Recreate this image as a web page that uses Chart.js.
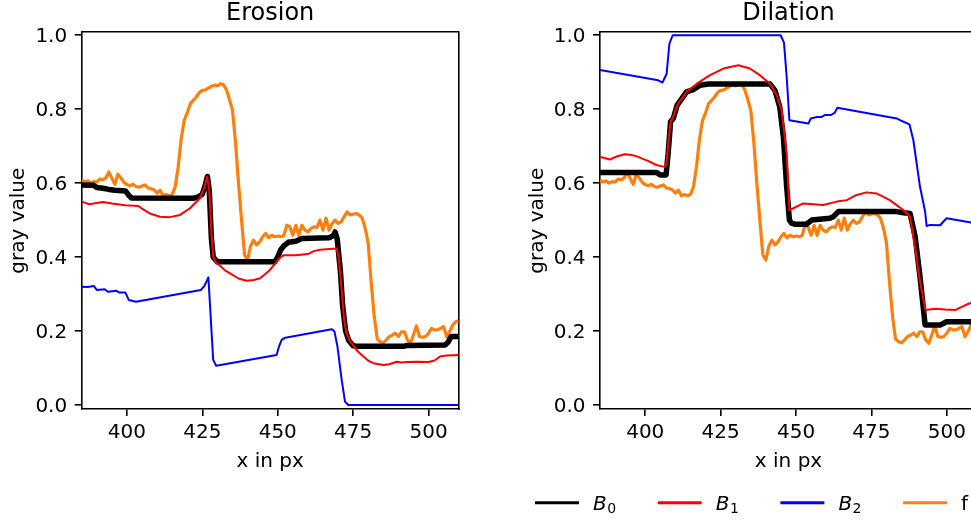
<!DOCTYPE html>
<html>
<head>
<meta charset="utf-8">
<script src="https://cdn.jsdelivr.net/npm/chart.js@4.4.0/dist/chart.umd.min.js"></script>
<style>
  html, body { margin: 0; padding: 0; background: #fff; overflow: hidden; }
  #wrap { position: relative; width: 971px; height: 519px; overflow: hidden; }
  #erosion { position: absolute; left: 0; top: 0; }
  #dilation { position: absolute; left: 490px; top: 0; }
</style>
</head>
<body>
<div id="wrap">
  <canvas id="erosion" width="490" height="519"></canvas>
  <canvas id="dilation" width="520" height="519"></canvas>
</div>
<script>
// ---- axes ----
const xTicks = [400, 425, 450, 475, 500];
const yTicks = [0.0, 0.2, 0.4, 0.6, 0.8, 1.0];
const xRange = [385, 510];
const yRange = [-0.011, 1.008];

// ---- input signal f (one sample per px) ----
const fX = [385,386,387,388,389,390,391,392,393,394,395,396,397,398,399,400,401,402,403,404,
  405,406,407,408,409,410,411,412,413,414,415,416,417,418,419,420,421,422,423,424,
  425,426,427,428,429,430,431,432,433,434,435,436,437,438,439,440,441,442,443,444,
  445,446,447,448,449,450,451,452,453,454,455,456,457,458,459,460,461,462,463,464,
  465,466,467,468,469,470,471,472,473,474,475,476,477,478,479,480,481,482,483,484,
  485,486,487,488,489,490,491,492,493,494,495,496,497,498,499,500,501,502,503,504,
  505,506,507,508,509,510];
const fY = [.608,.603,.606,.600,.604,.603,.611,.609,.614,.630,.613,.597,.624,.614,.602,.596,.593,.597,.591,.589,
  .592,.595,.587,.585,.582,.573,.581,.566,.569,.566,.569,.590,.645,.720,.770,.790,.815,.824,.833,.845,
  .851,.852,.857,.862,.865,.863,.869,.866,.853,.826,.797,.710,.600,.500,.405,.392,.430,.446,.433,.441,
  .455,.464,.452,.459,.455,.457,.455,.458,.486,.482,.459,.486,.459,.486,.473,.468,.477,.482,.480,.500,
  .473,.505,.473,.490,.500,.491,.495,.509,.522,.514,.516,.518,.514,.505,.478,.437,.330,.239,.178,.171,
  .168,.176,.185,.189,.194,.185,.198,.198,.176,.167,.189,.214,.185,.183,.185,.194,.207,.203,.203,.207,
  .212,.185,.198,.216,.225,.228];

// ---- erosion results ----
const b0ErosionX = [385,389,390,392,394,396,399.5,400.5,401.5,422,423.5,425,426,426.7,427.3,428,428.6,430,449,450,
  451,452,453.5,456,458,467,468.5,469,469.7,470.8,471.5,472.5,473.5,475,476,492,493,505.5,506.5,507.5,510];
const b0ErosionY = [.595,.594,.588,.586,.583,.581,.579,.568,.560,.559,.562,.570,.595,.618,.580,.450,.400,.387,.387,.400,
  .420,.430,.440,.443,.450,.452,.458,.468,.450,.360,.270,.200,.175,.160,.159,.159,.161,.162,.170,.185,.185];

const b1ErosionX = [385,387.5,390,392,395,399.4,403.8,405,407.6,410.9,414.2,417.6,420.9,424.2,425.5,426.6,427.3,428,428.6,429.5,
  431,432.5,434.2,437,439.7,442,444,446,447.4,449.6,451,452,456,460,462,464,469.5,470.2,471,472,
  472.8,474,475,476.5,478.4,480,481.7,485,487,489.5,491,493,496,500,502,503.8,506,510];
const b1ErosionY = [.550,.543,.546,.549,.545,.540,.538,.531,.518,.509,.508,.514,.532,.559,.585,.617,.580,.464,.401,.385,
  .376,.364,.356,.342,.336,.338,.342,.355,.365,.387,.400,.405,.405,.408,.416,.420,.423,.400,.330,.230,
  .194,.172,.162,.145,.131,.120,.113,.108,.110,.117,.115,.116,.117,.116,.120,.131,.134,.135];

const b2ErosionX = [385,387,389,390,392.6,393.7,396.4,397.5,399.5,400.6,403,424.5,425.7,427,428.6,429.6,449.6,450.5,451.3,452.5,
  467.9,468.8,469.8,471.2,472.3,473.4,510];
const b2ErosionY = [.320,.319,.322,.311,.313,.306,.309,.304,.304,.284,.279,.311,.322,.345,.122,.106,.135,.160,.176,.182,
  .205,.199,.158,.068,.009,0,0];

// ---- dilation results ----
const b0DilationX = [385,403.7,405,406.9,407.6,408.4,409.3,410.6,413.7,415.9,418.2,420.9,441.4,443,444.6,445.8,446.9,447.8,448.5,449.6,
  453.5,455.2,461.2,462.5,464,483.4,485.6,487.8,489.5,491.1,492.8,497.8,499.9,510];
const b0DilationY = [.629,.629,.622,.622,.680,.766,.775,.811,.847,.853,.865,.868,.868,.851,.806,.725,.590,.500,.492,.489,
  .489,.500,.505,.510,.523,.523,.520,.518,.455,.347,.216,.216,.225,.225];

const b1DilationX = [385,386.5,388.3,390.5,393.2,395,397,400.9,403.7,406.4,407,407.8,408.4,409.3,410.6,413.7,417.1,421.5,425.9,430.9,
  434.7,438,441.4,443.6,445.2,446.9,447.8,449.1,452.4,459,463.5,466.8,470.1,473.4,476.7,481.1,485.6,487.8,489.6,491.2,
  492.9,496.2,499.5,502.9,505.1,507.6,510];
const b1DilationY = [.671,.668,.664,.672,.678,.677,.673,.660,.649,.644,.650,.720,.766,.780,.811,.847,.869,.892,.910,.919,
  .910,.892,.869,.838,.797,.680,.527,.532,.545,.541,.550,.554,.568,.575,.572,.554,.527,.509,.419,.329,
  .257,.260,.258,.257,.266,.275,.278];

const b2DilationX = [385,404.3,405.7,407.1,408,409.1,444.9,446,446.9,447.8,454.1,454.9,456.9,458.5,459.5,461.5,462.8,463.7,483.4,485.1,
  487.6,488.9,491.1,492.8,493.3,494.5,497.8,499.9,510];
const b2DilationY = [.906,.878,.872,.896,.977,1.0,1.0,.980,.887,.770,.761,.775,.779,.779,.784,.784,.790,.804,.775,.768,
  .759,.716,.590,.523,.484,.487,.486,.505,.491];

// ---- series labels / colours ----
const seriesLabels = ['B₀', 'B₁', 'B₂', 'f'];
const seriesColors = ['#000000', '#ff0000', '#0000ff', '#ff7f0e'];

const FONT = '"DejaVu Sans", sans-serif';
const toPoints = (xs, ys) => xs.map((x, i) => ({ x: x, y: ys[i] }));

function makeDatasets(b0, b1, b2) {
  const widths = [5.5, 2, 2, 3.2];
  const order = [1, 0, 2, 3];          // red above black, orange underneath
  const pts = [b0, b1, b2, toPoints(fX, fY)];
  return pts.map((d, i) => ({
    label: seriesLabels[i],
    data: d,
    borderColor: seriesColors[i],
    backgroundColor: seriesColors[i],
    borderWidth: widths[i],
    order: order[i],
    pointRadius: 0,
    tension: 0,
    fill: false,
    borderJoinStyle: 'round',
    borderCapStyle: 'butt',
    clip: 0
  }));
}

// legend row under the right panel: short line + label (B with subscript digit)
const subDigits = { '₀': '0', '₁': '1', '₂': '2' };
const bottomLegend = {
  id: 'bottomLegend',
  afterDraw(chart) {
    const ctx = chart.ctx;
    const x0 = 45, step = 122.7, lineLen = 44, gap = 14, lineY = 502.7, baseY = 510;
    chart.data.datasets.forEach((ds, i) => {
      const x = x0 + i * step;
      ctx.save();
      ctx.strokeStyle = ds.borderColor;
      ctx.lineWidth = 3;
      ctx.lineCap = 'butt';
      ctx.beginPath();
      ctx.moveTo(x, lineY);
      ctx.lineTo(x + lineLen, lineY);
      ctx.stroke();
      ctx.fillStyle = '#000';
      ctx.textAlign = 'left';
      ctx.textBaseline = 'alphabetic';
      let tx = x + lineLen + gap;
      const chars = Array.from(ds.label);
      const last = chars[chars.length - 1];
      if (subDigits[last] !== undefined) {
        const base = chars.slice(0, -1).join('');
        ctx.font = 'italic 20px ' + FONT;
        ctx.fillText(base, tx, baseY);
        tx += ctx.measureText(base).width + 0.5;
        ctx.font = '14px ' + FONT;
        ctx.fillText(subDigits[last], tx, baseY + 3);
      } else {
        ctx.font = '20px ' + FONT;
        ctx.fillText(ds.label, tx, baseY);
      }
      ctx.restore();
    });
  }
};

function panel(id, title, datasets, padLeft, padRight, withLegend) {
  const tickFont = { family: FONT, size: 20 };
  const gridOpts = { display: true, drawOnChartArea: false, drawTicks: true, tickLength: 7,
                     tickWidth: 1.6, tickColor: '#000', color: '#000', lineWidth: 1.6 };
  const borderOpts = { display: true, color: '#000', width: 1.6 };
  return new Chart(document.getElementById(id), {
    type: 'line',
    data: { datasets: datasets },
    options: {
      responsive: false,
      animation: false,
      events: [],
      layout: { padding: { left: padLeft, right: padRight, top: 0, bottom: 40 } },
      plugins: { legend: { display: false }, tooltip: { enabled: false }, title: { display: false } },
      scales: {
        x: {
          type: 'linear', axis: 'x', position: 'bottom', z: 1,
          min: xRange[0], max: xRange[1],
          afterBuildTicks: s => { s.ticks = xTicks.map(v => ({ value: v })); },
          afterFit: s => { s.height = 70; },
          ticks: { font: tickFont, color: '#000', padding: 4.6, maxRotation: 0, autoSkip: false,
                   callback: v => String(v) },
          grid: gridOpts, border: borderOpts,
          title: { display: true, text: 'x in px', color: '#000',
                   font: { family: FONT, size: 20, lineHeight: 1.2 }, padding: { top: 0, bottom: 4.8 } }
        },
        top: {
          type: 'linear', axis: 'x', position: 'top', z: 1,
          min: xRange[0], max: xRange[1],
          afterFit: s => { s.height = 32.3; },
          ticks: { display: false }, grid: { display: false }, border: borderOpts,
          title: { display: true, text: title, color: '#000',
                   font: { family: FONT, size: 24, lineHeight: 1.0 }, padding: { top: 1.9, bottom: 0 } }
        },
        y: {
          type: 'linear', axis: 'y', position: 'left', z: 1,
          min: yRange[0], max: yRange[1],
          afterBuildTicks: s => { s.ticks = yTicks.map(v => ({ value: v })); },
          afterFit: s => { s.width = 81.7; },
          // an empty first line with a small line height drops each label ~1.8px below its tick
          ticks: { font: { family: FONT, size: 20, lineHeight: '3.6px' }, color: '#000', padding: 7.5,
                   autoSkip: false, callback: v => ['', v.toFixed(1)] },
          grid: gridOpts, border: borderOpts,
          title: { display: true, text: 'gray value', color: '#000',
                   font: { family: FONT, size: 20, lineHeight: 1.2 }, padding: { top: 7, bottom: 0 } }
        },
        right: {
          type: 'linear', axis: 'y', position: 'right', z: 1,
          min: yRange[0], max: yRange[1],
          afterFit: s => { s.width = 0; },
          ticks: { display: false }, grid: { display: false }, border: borderOpts
        }
      }
    },
    plugins: withLegend ? [bottomLegend] : []
  });
}

panel('erosion', 'Erosion',
  makeDatasets(toPoints(b0ErosionX, b0ErosionY), toPoints(b1ErosionX, b1ErosionY), toPoints(b2ErosionX, b2ErosionY)),
  0, 31.3, false);

panel('dilation', 'Dilation',
  makeDatasets(toPoints(b0DilationX, b0DilationY), toPoints(b1DilationX, b1DilationY), toPoints(b2DilationX, b2DilationY)),
  28.3, 33, true);
</script>
</body>
</html>
